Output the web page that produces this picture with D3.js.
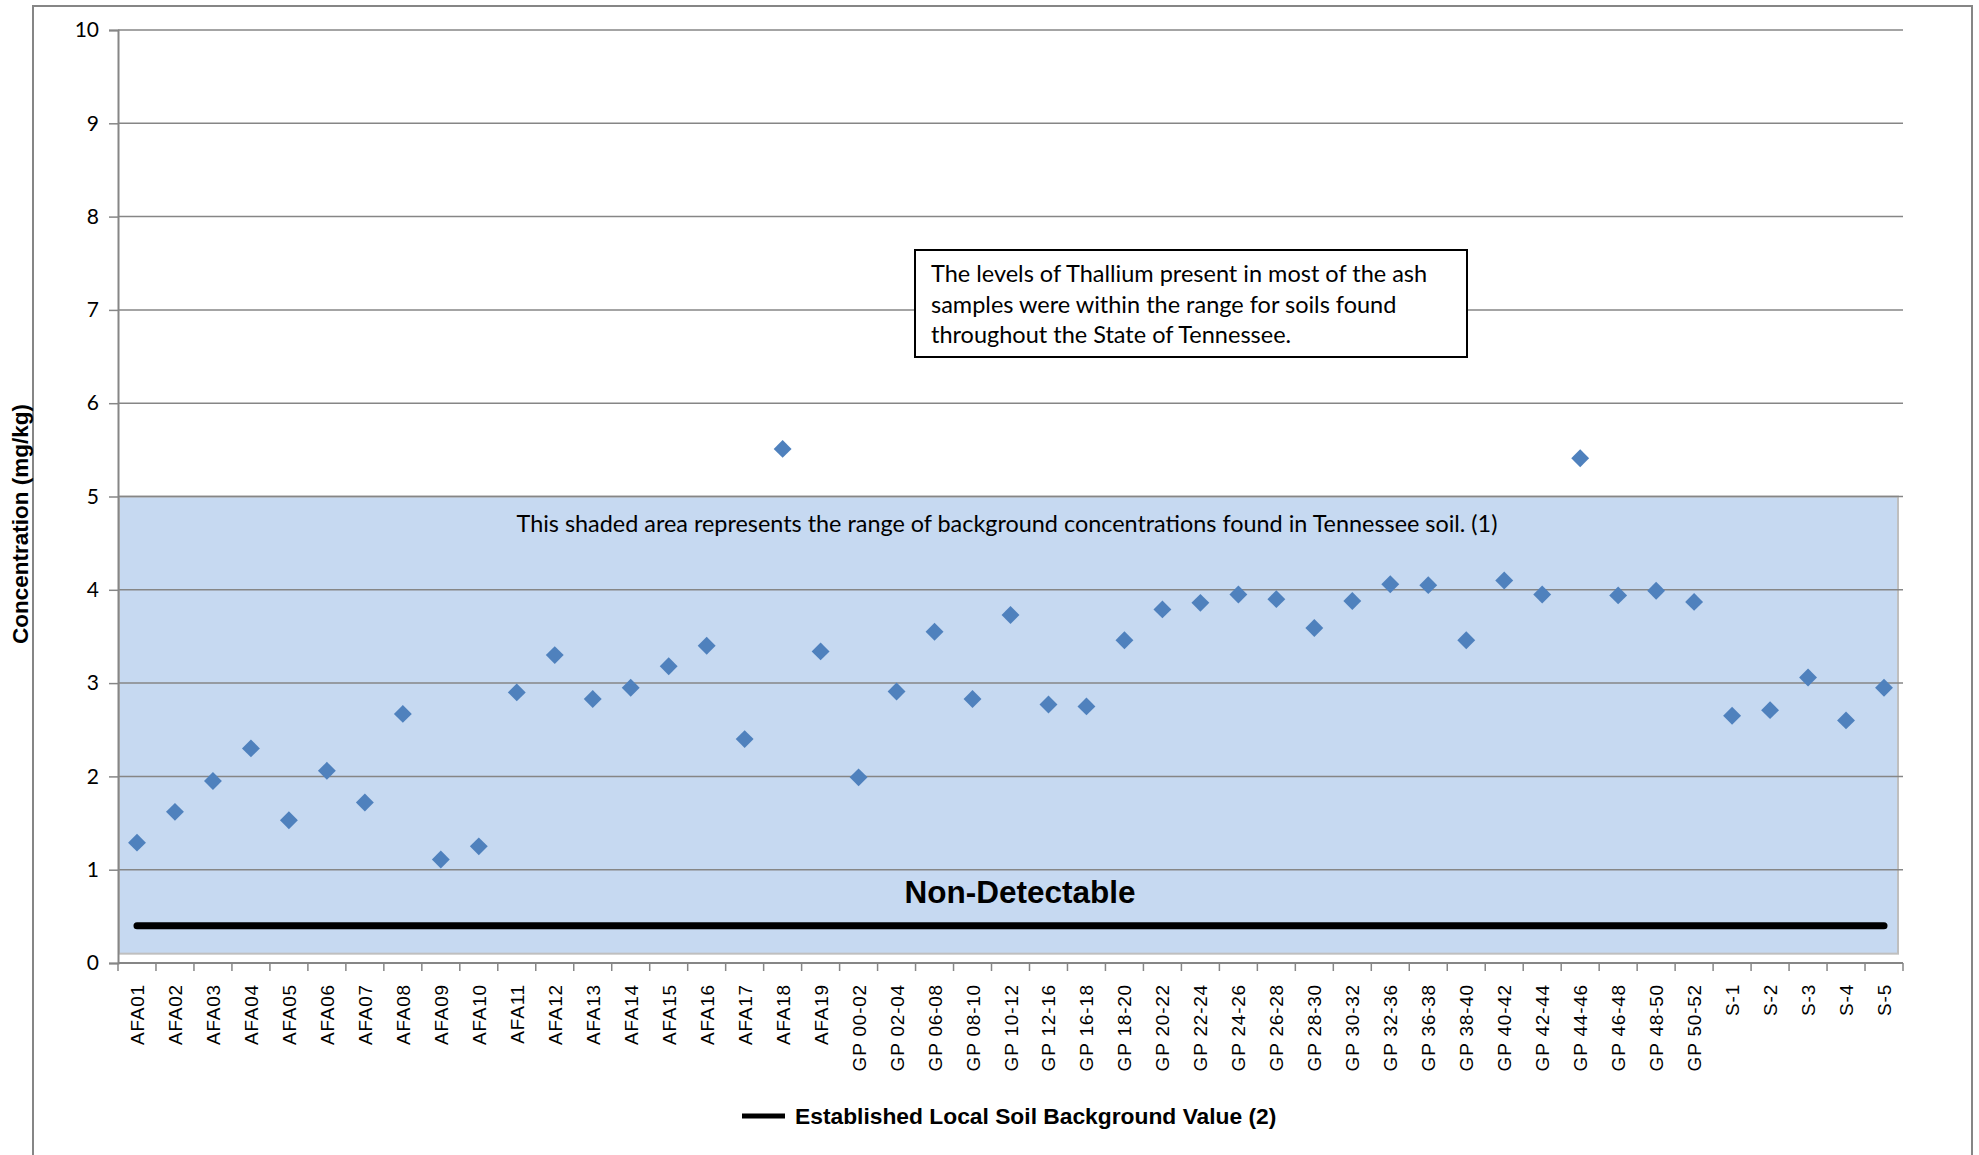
<!DOCTYPE html>
<html>
<head>
<meta charset="utf-8">
<script src="https://cdn.jsdelivr.net/npm/d3@7"></script>
<style>
  body { margin: 0; background: #fff; }
</style>
</head>
<body>
<div id="chart"></div>
<script>
// Sample locations along the x axis
const categories = [
    "AFA01", "AFA02", "AFA03", "AFA04", "AFA05", "AFA06", "AFA07", "AFA08", "AFA09", "AFA10",
    "AFA11", "AFA12", "AFA13", "AFA14", "AFA15", "AFA16", "AFA17", "AFA18", "AFA19",
    "GP 00-02", "GP 02-04", "GP 06-08", "GP 08-10", "GP 10-12", "GP 12-16", "GP 16-18",
    "GP 18-20", "GP 20-22", "GP 22-24", "GP 24-26", "GP 26-28", "GP 28-30", "GP 30-32",
    "GP 32-36", "GP 36-38", "GP 38-40", "GP 40-42", "GP 42-44", "GP 44-46", "GP 46-48",
    "GP 48-50", "GP 50-52", "S-1", "S-2", "S-3", "S-4", "S-5"
];

// Thallium concentration (mg/kg)
const thallium = [
    1.29, 1.62, 1.95, 2.30, 1.53, 2.06, 1.72, 2.67, 1.11, 1.25,
    2.90, 3.30, 2.83, 2.95, 3.18, 3.40, 2.40, 5.51, 3.34,
    1.99, 2.91, 3.55, 2.83, 3.73, 2.77, 2.75,
    3.46, 3.79, 3.86, 3.95, 3.90, 3.59, 3.88,
    4.06, 4.05, 3.46, 4.10, 3.95, 5.41, 3.94,
    3.99, 3.87, 2.65, 2.71, 3.06, 2.60, 2.95
];

const yTicks = [0, 1, 2, 3, 4, 5, 6, 7, 8, 9, 10];
const backgroundRange = [0.1, 5];     // Tennessee soil background range
const localBackground = [0.4, 0.4];   // established local soil background value

const width = 1979;
const height = 1155;
const plot = { left: 118, right: 1903, top: 30, bottom: 963 };

const grey = "#868686";
const sans = "Arial, 'Liberation Sans', sans-serif";
const calibri = "Lato, Calibri, sans-serif";

const svg = d3.select("#chart")
    .append("svg")
    .attr("width", width)
    .attr("height", height);

// Chart border
svg.append("rect")
    .attr("x", 33)
    .attr("y", 6)
    .attr("width", 1939)
    .attr("height", 1200)
    .attr("fill", "none")
    .attr("stroke", grey)
    .attr("stroke-width", 2);

// Scales
const x = d3.scaleBand()
    .domain(categories)
    .range([plot.left, plot.right]);

const y = d3.scaleLinear()
    .domain([0, 10])
    .range([plot.bottom, plot.top]);

const cx = d => x(d) + x.bandwidth() / 2;

// Shaded background range
svg.append("rect")
    .attr("x", plot.left + 1)
    .attr("y", y(backgroundRange[1]))
    .attr("width", plot.right - plot.left - 6)
    .attr("height", y(backgroundRange[0]) - y(backgroundRange[1]))
    .attr("fill", "#c6d9f1")
    .attr("stroke", "#bfbfbf")
    .attr("stroke-width", 2);

// Gridlines
svg.append("g")
    .selectAll("line")
    .data(yTicks.slice(1))
    .enter()
    .append("line")
    .attr("x1", plot.left)
    .attr("x2", plot.right)
    .attr("y1", d => y(d))
    .attr("y2", d => y(d))
    .attr("stroke", grey)
    .attr("stroke-width", 1.5);

// Y axis
const yAxis = svg.append("g")
    .attr("transform", `translate(${plot.left}, 0)`)
    .call(d3.axisLeft(y).tickValues(yTicks).tickSize(9).tickPadding(10));
yAxis.select(".domain").attr("stroke", grey).attr("stroke-width", 2);
yAxis.selectAll(".tick line").attr("stroke", grey).attr("stroke-width", 1.5);
yAxis.selectAll(".tick text")
    .attr("fill", "#000")
    .style("font-family", calibri)
    .style("font-size", "21px");

// X axis line and ticks at band edges
svg.append("line")
    .attr("x1", plot.left)
    .attr("x2", plot.right)
    .attr("y1", plot.bottom)
    .attr("y2", plot.bottom)
    .attr("stroke", grey)
    .attr("stroke-width", 2);

svg.append("g")
    .selectAll("line")
    .data(categories.map(d => x(d)).concat([plot.right]))
    .enter()
    .append("line")
    .attr("x1", d => d)
    .attr("x2", d => d)
    .attr("y1", plot.bottom)
    .attr("y2", plot.bottom + 8)
    .attr("stroke", grey)
    .attr("stroke-width", 1.5);

// X tick labels (rotated)
svg.append("g")
    .selectAll("text")
    .data(categories)
    .enter()
    .append("text")
    .attr("transform", d => `translate(${cx(d) + 7}, ${plot.bottom + 21}) rotate(-90)`)
    .attr("text-anchor", "end")
    .style("font-family", sans)
    .style("font-size", "19px")
    .style("letter-spacing", "0.8px")
    .text(d => d);

// Y axis title
svg.append("text")
    .attr("transform", "translate(28, 524) rotate(-90)")
    .attr("text-anchor", "middle")
    .style("font-family", sans)
    .style("font-weight", "bold")
    .style("font-size", "22.5px")
    .text("Concentration (mg/kg)");

// Established local soil background line
const line = d3.line()
    .x((d, i) => i === 0 ? cx(categories[0]) : cx(categories[categories.length - 1]))
    .y(d => y(d));

svg.append("path")
    .datum(localBackground)
    .attr("d", line)
    .attr("fill", "none")
    .attr("stroke", "#000")
    .attr("stroke-width", 7)
    .attr("stroke-linecap", "round");

// Data points
svg.append("g")
    .selectAll("path")
    .data(categories)
    .enter()
    .append("path")
    .attr("d", d3.symbol(d3.symbolSquare, 160))
    .attr("transform", (d, i) => `translate(${cx(d)}, ${y(thallium[i])}) rotate(45)`)
    .attr("fill", "#4f81bd");

// Annotations
svg.append("text")
    .attr("x", 1007)
    .attr("y", y(4.62))
    .attr("text-anchor", "middle")
    .style("font-family", calibri)
    .style("font-size", "23.4px")
    .text("This shaded area represents the range of background concentrations found in Tennessee soil. (1)");

svg.append("text")
    .attr("x", 1020)
    .attr("y", 903)
    .attr("text-anchor", "middle")
    .style("font-family", sans)
    .style("font-weight", "bold")
    .style("font-size", "31.5px")
    .text("Non-Detectable");

// Note box
svg.append("rect")
    .attr("x", 915)
    .attr("y", 250)
    .attr("width", 552)
    .attr("height", 107)
    .attr("fill", "#fff")
    .attr("stroke", "#000")
    .attr("stroke-width", 2);

const note = [
    "The levels of Thallium present in most of the ash",
    "samples were within the range for soils found",
    "throughout the State of Tennessee."
];
svg.append("g")
    .selectAll("text")
    .data(note)
    .enter()
    .append("text")
    .attr("x", 931)
    .attr("y", (d, i) => 282 + i * 30.5)
    .style("font-family", calibri)
    .style("font-size", "23.5px")
    .text(d => d);

// Legend
svg.append("line")
    .attr("x1", 742)
    .attr("x2", 785)
    .attr("y1", 1116)
    .attr("y2", 1116)
    .attr("stroke", "#000")
    .attr("stroke-width", 5);

svg.append("text")
    .attr("x", 795)
    .attr("y", 1124)
    .style("font-family", sans)
    .style("font-weight", "bold")
    .style("font-size", "22.8px")
    .text("Established Local Soil Background Value (2)");
</script>
</body>
</html>
